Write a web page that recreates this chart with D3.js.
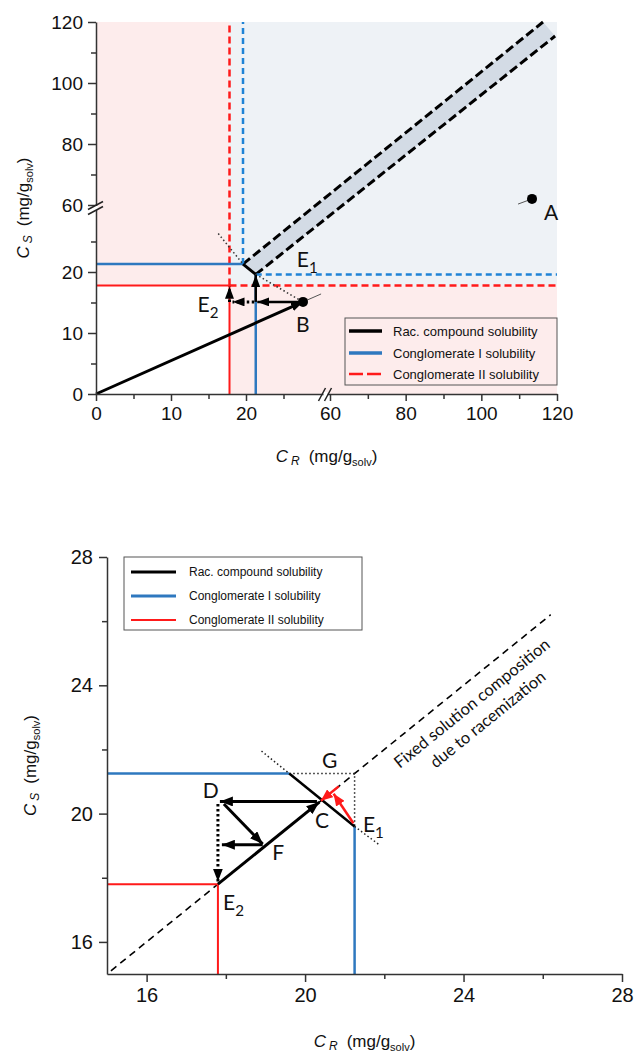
<!DOCTYPE html>
<html><head><meta charset="utf-8">
<script src="https://cdn.jsdelivr.net/npm/d3@7"></script>
<style>body{margin:0;background:#fff}svg{display:block}</style>
</head><body>
<script>
// ---------------- DATA: top (overview) chart ----------------
const topMajorTicks = [0, 10, 20, 60, 80, 100, 120];
const topMinorTicks = [5, 15, 25, 70, 90, 110];
const conglomII = 17.8;          // Conglomerate II solubility
const conglomIHigh = 21.3;       // Conglomerate I solubility (solid)
const conglomILow = 19.6;        // Conglomerate I (dashed boundary)
const topRacLine = [[19.6, 21.3], [21.3, 19.6]];
const topRacDottedA = [[16.3, 26.3], [19.6, 21.3]];
const topRacDottedB = [[21.3, 19.6], [27.6, 15.1]];
const topBandUpper = [[19.6, 21.3], [116.3, 120]];
const topBandLower = [[21.3, 19.6], [119.5, 115.4]];
const pointA = [113.4, 62];
const pointB = [27.6, 15.1];
const tangentA = [[109.7, 60.3], [113.4, 62]];
const tangentB = [[27.6, 15.1], [30.3, 16.4]];
const topArrows = [
  {from: [0, 0], to: [27.6, 15.1], dotted: false, w: 3},
  {from: [27.6, 15.1], to: [21.5, 15.1], dotted: false, w: 2.5},
  {from: [21.3, 15.1], to: [21.3, 19.5], dotted: false, w: 2.5},
  {from: [21.1, 15.1], to: [18.2, 15.1], dotted: true, w: 3},
  {from: [17.8, 15.1], to: [17.8, 17.6], dotted: true, w: 3}
];
const topLegend = ["Rac. compound solubility", "Conglomerate I solubility", "Conglomerate II solubility"];

// ---------------- DATA: bottom (zoomed) chart ----------------
const botMajorTicks = [16, 20, 24, 28];
const botMinorTicks = [18, 22, 26];
const E1 = [21.25, 19.6];
const Gcorner = [19.6, 21.25];
const Gpoint = [21.25, 21.25];
const E2 = [17.8, 17.8];
const C = [20.36, 20.38];
const D = [17.8, 20.38];
const F = [18.93, 19.03];
const botDiagonal = [[15.1, 15.1], [26.2, 26.2]];
const botDottedExt1 = [[18.9, 21.95], [19.6, 21.25]];
const botDottedExt2 = [[21.25, 19.6], [21.85, 19.05]];
const botArrows = [
  {from: [17.8, 17.8], to: [20.36, 20.36], dotted: false, w: 3, color: "black"},
  {from: [20.3, 20.38], to: [17.85, 20.38], dotted: false, w: 3, color: "black"},
  {from: [17.95, 20.3], to: [18.93, 19.05], dotted: false, w: 3, color: "black"},
  {from: [18.93, 19.03], to: [17.9, 19.03], dotted: false, w: 3, color: "black"},
  {from: [17.8, 20.3], to: [17.8, 17.88], dotted: true, w: 3, color: "black"},
  {from: [21.22, 19.7], to: [20.72, 20.62], dotted: false, w: 2.5, color: "red"},
  {from: [20.85, 20.85], to: [20.4, 20.4], dotted: false, w: 2.5, color: "red"}
];
const botLabels = [
  {t: "G", p: [20.43, 21.42]}, {t: "D", p: [17.42, 20.49]}, {t: "C", p: [20.25, 19.55]},
  {t: "F", p: [19.17, 18.55]}, {t: "E", sub: "1", p: [21.46, 19.43]}, {t: "E", sub: "2", p: [17.93, 17.0]}
];
const diagText = ["Fixed solution composition", "due to racemization"];
const diagTextPos = [[24.3, 23.3], [24.7, 22.8]];
const botLegend = ["Rac. compound solubility", "Conglomerate I solubility", "Conglomerate II solubility"];

// ---------------- STYLE ----------------
const RED = "#ff1a1a", BLUE = "#2e78bf", BLUE_D = "#1f83d6";
const PINK = "#fdecec", GREYBLUE = "#eef2f6", BAND = "#d3dbe5";
const ARIAL = "Liberation Sans, Arial, sans-serif";
const CAL = "Lato, 'Open Sans', sans-serif";

const svg = d3.select("body").append("svg").attr("width", 636).attr("height", 1058);
const defs = svg.append("defs");
function marker(id, color, L, W) {
  defs.append("marker").attr("id", id).attr("markerUnits", "userSpaceOnUse")
    .attr("viewBox", `0 0 ${L} ${W}`).attr("refX", L).attr("refY", W / 2)
    .attr("markerWidth", L).attr("markerHeight", W).attr("orient", "auto")
    .append("path").attr("d", `M0,0L${L},${W/2}L0,${W}Z`).attr("fill", color);
}
marker("ahT", "black", 12, 9);
marker("ahB", "black", 13, 10);
marker("ahR", RED, 12, 10);

const line = (sx, sy) => d3.line().x(d => sx(d[0])).y(d => sy(d[1]));

// ================= TOP CHART =================
const xT = d3.scaleLinear().domain([0, 30, 60, 120]).range([96, 321, 330, 557]);
const yT = d3.scaleLinear().domain([0, 30, 60, 120]).range([394, 211, 205, 22]);
const lT = line(xT, yT);
const gT = svg.append("g");

// background regions
gT.append("rect").attr("x", xT(0)).attr("y", yT(120)).attr("width", xT(120) - xT(0)).attr("height", yT(0) - yT(120)).attr("fill", GREYBLUE);
gT.append("rect").attr("x", xT(0)).attr("y", yT(120)).attr("width", xT(conglomII) - xT(0)).attr("height", yT(0) - yT(120)).attr("fill", PINK);
gT.append("rect").attr("x", xT(0)).attr("y", yT(conglomII)).attr("width", xT(120) - xT(0)).attr("height", yT(0) - yT(conglomII)).attr("fill", PINK);
gT.append("rect").attr("x", xT(0)).attr("y", yT(conglomII)).attr("width", xT(conglomII) - xT(0)).attr("height", yT(0) - yT(conglomII)).attr("fill", "#ffffff");

// band
gT.append("path").attr("d", lT([topBandUpper[0], topBandUpper[1], topBandLower[1], topBandLower[0]]) + "Z").attr("fill", BAND);
[topBandUpper, topBandLower].forEach(b => gT.append("path").attr("d", lT(b)).attr("fill", "none")
  .attr("stroke", "black").attr("stroke-width", 3).attr("stroke-dasharray", "9,4"));

// conglomerate II (red)
gT.append("path").attr("d", lT([[0, conglomII], [conglomII, conglomII], [conglomII, 0]])).attr("fill", "none").attr("stroke", RED).attr("stroke-width", 2);
gT.append("path").attr("d", lT([[conglomII, conglomII], [120, conglomII]])).attr("fill", "none").attr("stroke", RED).attr("stroke-width", 2.5).attr("stroke-dasharray", "7,4");
gT.append("path").attr("d", lT([[conglomII, conglomII], [conglomII, 120]])).attr("fill", "none").attr("stroke", RED).attr("stroke-width", 2.5).attr("stroke-dasharray", "7,4");
// conglomerate I (blue)
gT.append("path").attr("d", lT([[0, conglomIHigh], [conglomILow, conglomIHigh]])).attr("fill", "none").attr("stroke", BLUE).attr("stroke-width", 2.5);
gT.append("path").attr("d", lT([[conglomIHigh, 0], [conglomIHigh, conglomILow]])).attr("fill", "none").attr("stroke", BLUE).attr("stroke-width", 2.5);
gT.append("path").attr("d", lT([[conglomILow, conglomIHigh], [conglomILow, 120]])).attr("fill", "none").attr("stroke", BLUE_D).attr("stroke-width", 2.5).attr("stroke-dasharray", "6,4");
gT.append("path").attr("d", lT([[conglomIHigh, conglomILow], [120, conglomILow]])).attr("fill", "none").attr("stroke", BLUE_D).attr("stroke-width", 2.5).attr("stroke-dasharray", "6,4");

// rac compound line
[topRacDottedA, topRacDottedB].forEach(d => gT.append("path").attr("d", lT(d)).attr("fill", "none")
  .attr("stroke", "#333").attr("stroke-width", 1.5).attr("stroke-dasharray", "1.5,2.5"));
gT.append("path").attr("d", lT(topRacLine)).attr("fill", "none").attr("stroke", "black").attr("stroke-width", 3);

// tangents + arrows
[tangentA, tangentB].forEach(d => gT.append("path").attr("d", lT(d)).attr("stroke", "#555").attr("stroke-width", 1).attr("fill", "none"));
topArrows.forEach(a => gT.append("path").attr("d", lT([a.from, a.to])).attr("fill", "none")
  .attr("stroke", "black").attr("stroke-width", a.w).attr("stroke-dasharray", a.dotted ? "2.5,2.5" : null)
  .attr("marker-end", "url(#ahT)"));
[pointA, pointB].forEach(p => gT.append("circle").attr("cx", xT(p[0])).attr("cy", yT(p[1])).attr("r", 5).attr("fill", "black"));

// labels
function subLabel(g, x, y, t, sub, fs) {
  const tx = g.append("text").attr("x", x).attr("y", y).attr("font-family", CAL).attr("font-size", fs).attr("fill", "#111");
  tx.append("tspan").text(t);
  if (sub) tx.append("tspan").attr("dy", fs * 0.28).attr("font-size", fs * 0.72).text(sub);
}
subLabel(gT, xT(conglomIHigh) + 41, yT(conglomILow) - 7, "E", "1", 21);
subLabel(gT, xT(conglomII) - 32, yT(pointB[1]) + 10, "E", "2", 21);
subLabel(gT, xT(pointB[0]) - 7, yT(pointB[1]) + 30, "B", null, 21);
subLabel(gT, xT(pointA[0]) + 12, yT(pointA[1]) + 21, "A", null, 21);

// axes
function styleAxis(g, fs) {
  g.selectAll("path.domain").attr("stroke", "#333").attr("stroke-width", 1.5);
  g.selectAll(".tick line").attr("stroke", "#333").attr("stroke-width", 1.5);
  g.selectAll("text").attr("font-family", ARIAL).attr("font-size", fs).attr("fill", "#111");
}
const yAxT = gT.append("g").attr("transform", `translate(${xT(0)},0)`)
  .call(d3.axisLeft(yT).tickValues(topMajorTicks).tickSize(8).tickSizeOuter(0).tickPadding(5));
styleAxis(yAxT, 19);
const yAxTm = gT.append("g").attr("transform", `translate(${xT(0)},0)`)
  .call(d3.axisLeft(yT).tickValues(topMinorTicks).tickSize(5).tickSizeOuter(0).tickFormat(""));
styleAxis(yAxTm, 19); yAxTm.select("path.domain").remove();
const xAxT = gT.append("g").attr("transform", `translate(0,${yT(0)})`)
  .call(d3.axisBottom(xT).tickValues(topMajorTicks).tickSize(7).tickSizeOuter(0).tickPadding(6));
styleAxis(xAxT, 19);
const xAxTm = gT.append("g").attr("transform", `translate(0,${yT(0)})`)
  .call(d3.axisBottom(xT).tickValues(topMinorTicks).tickSize(5).tickSizeOuter(0).tickFormat(""));
styleAxis(xAxTm, 19); xAxTm.select("path.domain").remove();

// axis breaks
const yBrk = (yT(30) + yT(60)) / 2, xBrk = (xT(30) + xT(60)) / 2;
gT.append("rect").attr("x", xT(0) - 2).attr("y", yBrk - 2).attr("width", 4).attr("height", 4).attr("fill", "white");
[-2.5, 2.5].forEach(o => gT.append("line").attr("x1", xT(0) - 8).attr("y1", yBrk + o + 4).attr("x2", xT(0) + 7).attr("y2", yBrk + o - 4).attr("stroke", "#222").attr("stroke-width", 1.5));
gT.append("rect").attr("x", xBrk - 2).attr("y", yT(0) - 2).attr("width", 4).attr("height", 4).attr("fill", "white");
[-3, 3].forEach(o => gT.append("line").attr("x1", xBrk + o - 4).attr("y1", yT(0) + 7).attr("x2", xBrk + o + 3).attr("y2", yT(0) - 6).attr("stroke", "#222").attr("stroke-width", 1.5));

// axis titles
function axisTitle(g, x, y, letter, sub, rotate) {
  const t = g.append("text").attr("font-family", ARIAL).attr("font-size", 17).attr("fill", "#111")
    .attr("text-anchor", "middle").attr("transform", `translate(${x},${y})` + (rotate ? " rotate(-90)" : ""));
  t.append("tspan").attr("font-style", "italic").text("C");
  t.append("tspan").attr("font-style", "italic").attr("font-size", 12).attr("dx", 3).attr("dy", 3).text(sub);
  t.append("tspan").attr("dx", 9).attr("dy", -3).text("(mg/g");
  t.append("tspan").attr("font-size", 11).attr("dy", 4).text("solv");
  t.append("tspan").attr("dy", -4).text(")");
}
axisTitle(gT, (xT(0) + xT(120)) / 2, 462, "C", "R", false);
axisTitle(gT, 29, (yT(0) + yT(120)) / 2, "C", "S", true);

// legend
function legend(g, x0, y0, w, h, rows, lx1, lx2, tx, items, fs, styles) {
  g.append("rect").attr("x", x0).attr("y", y0).attr("width", w).attr("height", h).attr("fill", "none").attr("stroke", "#555").attr("stroke-width", 1);
  items.forEach((s, i) => {
    g.append("line").attr("x1", lx1).attr("x2", lx2).attr("y1", rows[i]).attr("y2", rows[i])
      .attr("stroke", styles[i].c).attr("stroke-width", styles[i].w).attr("stroke-dasharray", styles[i].d || null);
    g.append("text").attr("x", tx).attr("y", rows[i]).attr("dy", "0.35em").attr("font-family", ARIAL)
      .attr("font-size", fs).attr("fill", "#111").text(s);
  });
}
legend(gT, 345, 318, 212, 67, [331, 353, 374], 349, 382, 393, topLegend, 13,
  [{c: "black", w: 3.5}, {c: BLUE, w: 3.5}, {c: RED, w: 2.5, d: "14,4"}]);

// ================= BOTTOM CHART =================
const xB = d3.scaleLinear().domain([15, 28]).range([107, 622]);
const yB = d3.scaleLinear().domain([15, 28]).range([974, 557]);
const lB = line(xB, yB);
const gB = svg.append("g");

gB.append("path").attr("d", lB(botDiagonal)).attr("fill", "none").attr("stroke", "black").attr("stroke-width", 1.6).attr("stroke-dasharray", "7,5");
gB.append("path").attr("d", lB([[15, E2[1]], E2, [E2[0], 15]])).attr("fill", "none").attr("stroke", RED).attr("stroke-width", 2);
gB.append("path").attr("d", lB([[15, Gcorner[1]], Gcorner])).attr("fill", "none").attr("stroke", BLUE).attr("stroke-width", 2.5);
gB.append("path").attr("d", lB([E1, [E1[0], 15]])).attr("fill", "none").attr("stroke", BLUE).attr("stroke-width", 2.5);
[[Gcorner, Gpoint, E1], botDottedExt1, botDottedExt2].forEach(d => gB.append("path").attr("d", lB(d)).attr("fill", "none")
  .attr("stroke", "#222").attr("stroke-width", 1.5).attr("stroke-dasharray", "1.5,2.5"));
gB.append("path").attr("d", lB([Gcorner, E1])).attr("fill", "none").attr("stroke", "black").attr("stroke-width", 2.5);
botArrows.forEach(a => gB.append("path").attr("d", lB([a.from, a.to])).attr("fill", "none")
  .attr("stroke", a.color === "red" ? RED : "black").attr("stroke-width", a.w)
  .attr("stroke-dasharray", a.dotted ? "2.5,2.5" : null)
  .attr("marker-end", a.color === "red" ? "url(#ahR)" : "url(#ahB)"));

botLabels.forEach(l => subLabel(gB, xB(l.p[0]), yB(l.p[1]), l.t, l.sub, 21));

const ang = Math.atan2(yB(26) - yB(15), xB(26) - xB(15)) * 180 / Math.PI;
diagText.forEach((s, i) => gB.append("text").attr("font-family", CAL).attr("font-size", 16.5).attr("fill", "#111")
  .attr("text-anchor", "middle").attr("transform", `translate(${xB(diagTextPos[i][0])},${yB(diagTextPos[i][1])}) rotate(${ang})`).text(s));

const yAxB = gB.append("g").attr("transform", `translate(${xB(15)},0)`)
  .call(d3.axisLeft(yB).tickValues(botMajorTicks).tickSize(8).tickSizeOuter(0).tickPadding(6));
styleAxis(yAxB, 20);
const yAxBm = gB.append("g").attr("transform", `translate(${xB(15)},0)`)
  .call(d3.axisLeft(yB).tickValues(botMinorTicks).tickSize(5).tickSizeOuter(0).tickFormat(""));
styleAxis(yAxBm, 20); yAxBm.select("path.domain").remove();
const xAxB = gB.append("g").attr("transform", `translate(0,${yB(15)})`)
  .call(d3.axisBottom(xB).tickValues(botMajorTicks).tickSize(8).tickSizeOuter(0).tickPadding(6));
styleAxis(xAxB, 20);
const xAxBm = gB.append("g").attr("transform", `translate(0,${yB(15)})`)
  .call(d3.axisBottom(xB).tickValues(botMinorTicks).tickSize(5).tickSizeOuter(0).tickFormat(""));
styleAxis(xAxBm, 20); xAxBm.select("path.domain").remove();

axisTitle(gB, (xB(15) + xB(28)) / 2, 1047, "C", "R", false);
axisTitle(gB, 36, (yB(15) + yB(28)) / 2, "C", "S", true);

legend(gB, 124, 557, 238, 73, [572, 596, 620], 131, 176, 189, botLegend, 12,
  [{c: "black", w: 3}, {c: BLUE, w: 3}, {c: RED, w: 2}]);
</script>
</body></html>
